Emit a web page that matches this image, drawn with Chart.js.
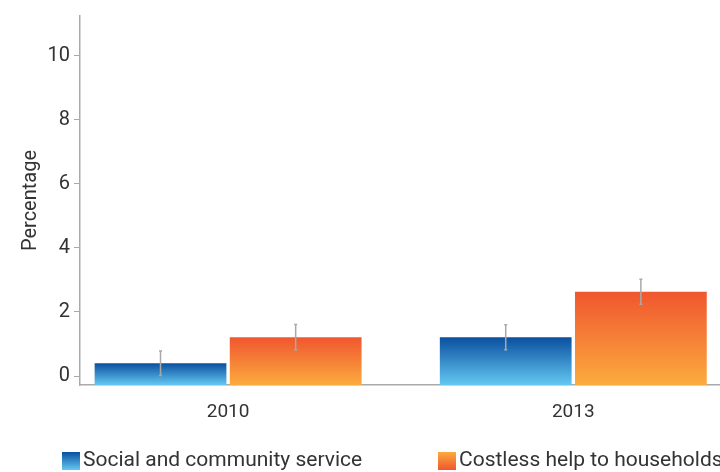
<!DOCTYPE html>
<html>
<head>
<meta charset="utf-8">
<script src="https://cdn.jsdelivr.net/npm/chart.js@4/dist/chart.umd.min.js"></script>
<style>
  html, body { margin: 0; padding: 0; background: #fff; }
  #wrap { width: 720px; height: 472px; }
</style>
</head>
<body>
<div id="wrap"><canvas id="volunteerChart"></canvas></div>
<script>
// ---- data ----
const years = ["2010", "2013"];
const seriesNames = ["Social and community service", "Costless help to households"];
const socialValues = [0.40, 1.21];
const socialErrors = [0.38, 0.39];
const costlessValues = [1.21, 2.63];
const costlessErrors = [0.40, 0.39];
const yTicks = [0, 2, 4, 6, 8, 10];

const Y_MIN = -0.28;
const Y_MAX = 11.24;
const FONT = "Roboto, 'DejaVu Sans', sans-serif";

const blueStops = ["#0a4f9f", "#64c8f2"];
const orangeStops = ["#f0562f", "#fbab3e"];

// gradient per bar, from its top down to the axis bottom
function barGradient(stops) {
  return (context) => {
    const chart = context.chart;
    if (!chart.chartArea || context.raw == null) return stops[0];
    const y = chart.scales.y;
    const top = y.getPixelForValue(context.raw.y);
    const bottom = y.getPixelForValue(Y_MIN);
    const g = chart.ctx.createLinearGradient(0, top, 0, bottom);
    g.addColorStop(0, stops[0]);
    g.addColorStop(1, stops[1]);
    return g;
  };
}

const errorBars = {
  id: "errorBars",
  afterDatasetsDraw(chart) {
    const ctx = chart.ctx;
    const y = chart.scales.y;
    ctx.save();
    ctx.strokeStyle = "#a9a9a9";
    ctx.lineWidth = 1.5;
    chart.data.datasets.forEach((ds, di) => {
      chart.getDatasetMeta(di).data.forEach((bar, i) => {
        const v = ds.data[i].y;
        const e = ds.errors[i];
        const yTop = y.getPixelForValue(v + e);
        const yBot = y.getPixelForValue(v - e);
        ctx.beginPath();
        ctx.moveTo(bar.x, yTop); ctx.lineTo(bar.x, yBot);
        ctx.moveTo(bar.x - 1.5, yTop); ctx.lineTo(bar.x + 1.5, yTop);
        ctx.moveTo(bar.x - 1.5, yBot); ctx.lineTo(bar.x + 1.5, yBot);
        ctx.stroke();
      });
    });
    ctx.restore();
  }
};

// legend drawn by hand so the boxes can carry the gradients
const bottomLegend = {
  id: "bottomLegend",
  afterDraw(chart) {
    const ctx = chart.ctx;
    const items = [
      { x: 62, stops: blueStops },
      { x: 438, stops: [orangeStops[1], orangeStops[0]] }
    ];
    ctx.save();
    ctx.font = "21px " + FONT;
    ctx.textBaseline = "middle";
    items.forEach((it, i) => {
      const g = ctx.createLinearGradient(0, 452, 0, 470);
      g.addColorStop(0, it.stops[0]);
      g.addColorStop(1, it.stops[1]);
      ctx.fillStyle = g;
      ctx.fillRect(it.x, 452, 18, 18);
      ctx.fillStyle = "#333";
      ctx.fillText(seriesNames[i], it.x + 21, 461);
    });
    ctx.restore();
  }
};

const toPoints = (vals) => vals.map((v, i) => ({ x: i, y: v }));

new Chart(document.getElementById("volunteerChart"), {
  type: "bar",
  data: {
    datasets: [
      {
        label: seriesNames[0],
        data: toPoints(socialValues),
        errors: socialErrors,
        backgroundColor: barGradient(blueStops),
        base: Y_MIN,
        categoryPercentage: 0.783,
        barPercentage: 0.975
      },
      {
        label: seriesNames[1],
        data: toPoints(costlessValues),
        errors: costlessErrors,
        backgroundColor: barGradient(orangeStops),
        base: Y_MIN,
        categoryPercentage: 0.783,
        barPercentage: 0.975
      }
    ]
  },
  options: {
    responsive: true,
    maintainAspectRatio: false,
    animation: false,
    layout: { padding: { top: 13, left: 0, right: 0, bottom: 0 } },
    scales: {
      x: {
        type: "linear",
        offset: false,
        min: -0.429,
        max: 1.425,
        afterBuildTicks: (scale) => { scale.ticks = years.map((_, i) => ({ value: i })); },
        afterFit: (scale) => { scale.height = 87; },
        grid: { display: false, offset: false },
        border: { display: true, color: "#aaaaaa", width: 1.5 },
        ticks: {
          padding: 8,
          color: "#333",
          font: { family: FONT, size: 19 },
          callback: (v) => years[v]
        }
      },
      y: {
        min: Y_MIN,
        max: Y_MAX,
        afterBuildTicks: (scale) => { scale.ticks = yTicks.map((v) => ({ value: v })); },
        afterFit: (scale) => { scale.width = 80; },
        grid: { drawOnChartArea: false, drawTicks: true, tickLength: 6, color: "#aaaaaa" },
        border: { display: true, color: "#aaaaaa", width: 1.5 },
        ticks: {
          padding: 4,
          color: "#333",
          font: { family: FONT, size: 20 }
        },
        title: {
          display: true,
          text: "Percentage",
          color: "#333",
          font: { family: FONT, size: 20 },
          padding: { top: 19, bottom: 0 }
        }
      }
    },
    plugins: {
      legend: { display: false },
      tooltip: { enabled: false }
    }
  },
  plugins: [errorBars, bottomLegend]
});
</script>
</body>
</html>
